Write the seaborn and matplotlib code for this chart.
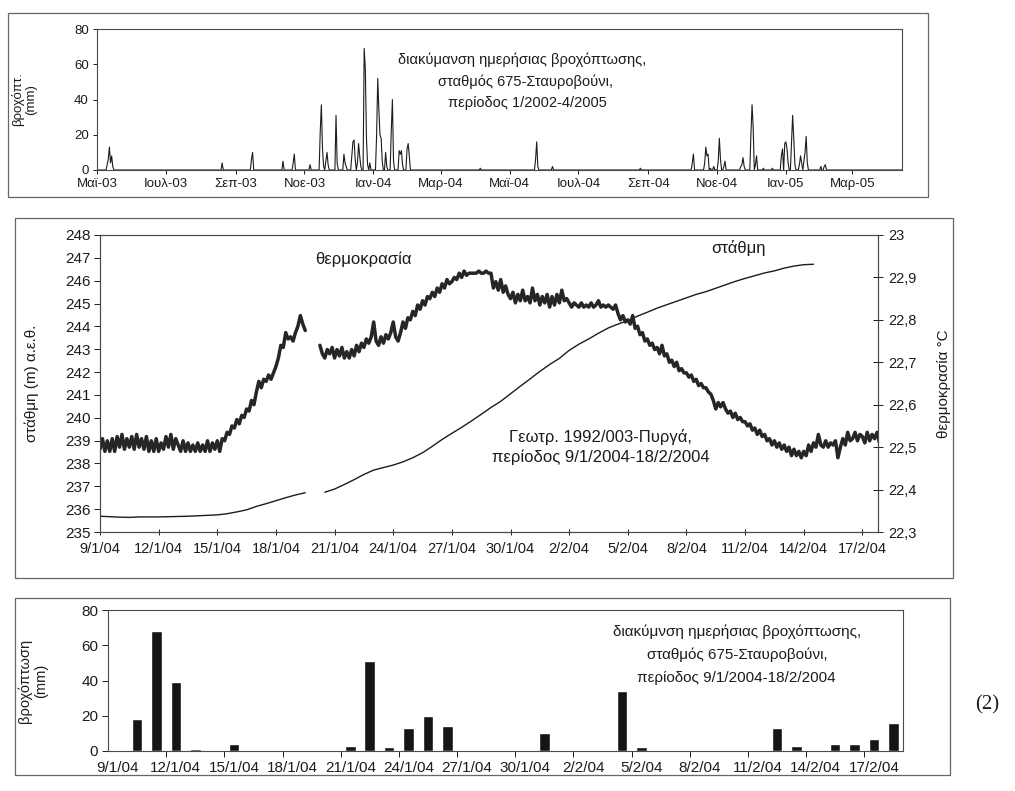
import pandas as pd
import matplotlib
matplotlib.use('Agg')
import matplotlib.pyplot as plt
import matplotlib.patches as mpatches
import seaborn as sns

# ---- top panel: daily rainfall, station 675 (only rainy days listed) ----
rain_dates = ['2003-05-10', '2003-05-11', '2003-05-12', '2003-05-13', '2003-05-14', '2003-05-15',
              '2003-08-20', '2003-09-15', '2003-09-16', '2003-10-13', '2003-10-22', '2003-10-23',
              '2003-11-06', '2003-11-15', '2003-11-16', '2003-11-17', '2003-11-18', '2003-11-20',
              '2003-11-21', '2003-11-22', '2003-11-29', '2003-11-30', '2003-12-06', '2003-12-07',
              '2003-12-08', '2003-12-13', '2003-12-14', '2003-12-15', '2003-12-16', '2003-12-18',
              '2003-12-19', '2003-12-20', '2003-12-21', '2003-12-24', '2003-12-25', '2003-12-26',
              '2003-12-27', '2003-12-29', '2004-01-04', '2004-01-05', '2004-01-06', '2004-01-07',
              '2004-01-08', '2004-01-09', '2004-01-12', '2004-01-13', '2004-01-17', '2004-01-18',
              '2004-01-19', '2004-01-24', '2004-01-25', '2004-01-26', '2004-01-27', '2004-01-31',
              '2004-02-01', '2004-02-02', '2004-04-05', '2004-05-24', '2004-05-25', '2004-05-26',
              '2004-06-08', '2004-08-25', '2004-10-10', '2004-10-11', '2004-10-21', '2004-10-22',
              '2004-10-23', '2004-10-24', '2004-10-26', '2004-10-29', '2004-11-02', '2004-11-03',
              '2004-11-04', '2004-11-07', '2004-11-08', '2004-11-22', '2004-11-23', '2004-11-24',
              '2004-11-25', '2004-12-01', '2004-12-02', '2004-12-03', '2004-12-05', '2004-12-06',
              '2004-12-12', '2004-12-20', '2004-12-28', '2004-12-29', '2004-12-31', '2005-01-01',
              '2005-01-02', '2005-01-03', '2005-01-06', '2005-01-07', '2005-01-08', '2005-01-09',
              '2005-01-13', '2005-01-14', '2005-01-15', '2005-01-17', '2005-01-18', '2005-01-19',
              '2005-01-20', '2005-02-01', '2005-02-04', '2005-02-05']
rain_mm = [3, 6, 13, 4, 8, 2,
           4, 6, 10, 5, 4, 9,
           3, 22, 37, 12, 2, 5,
           10, 3, 31, 4, 9, 4,
           2, 8, 16, 17, 6, 4,
           15, 8, 2, 69, 57, 18,
           3, 4, 20, 52, 34, 20,
           18, 5, 10, 2, 22, 40,
           5, 11, 9, 11, 3, 12,
           15, 8, 1, 6, 16, 2,
           2, 1, 4, 9, 4, 13,
           8, 9, 1, 2, 5, 18,
           6, 2, 5, 2, 3, 7,
           2, 20, 37, 24, 3, 8,
           1, 1, 8, 12, 15, 16,
           12, 4, 15, 31, 18, 3,
           3, 8, 4, 5, 10, 19,
           4, 2, 2, 3]

month_ticks = ['2003-05-01', '2003-07-01', '2003-09-01', '2003-11-01', '2004-01-01', '2004-03-01',
               '2004-05-01', '2004-07-01', '2004-09-01', '2004-11-01', '2005-01-01', '2005-03-01']
month_labels = ['Μαϊ-03', 'Ιουλ-03', 'Σεπ-03', 'Νοε-03', 'Ιαν-04', 'Μαρ-04',
                'Μαϊ-04', 'Ιουλ-04', 'Σεπ-04', 'Νοε-04', 'Ιαν-05', 'Μαρ-05']

# ---- middle panel: borehole 1992/003 Pyrga ----
# temperature every 3 h from 9/1/2004 00:00 (one row per day)
temp_c = [22.495, 22.52, 22.49, 22.515, 22.49, 22.52, 22.49, 22.525,
          22.50, 22.53, 22.495, 22.52, 22.50, 22.525, 22.495, 22.53,
          22.50, 22.52, 22.495, 22.525, 22.49, 22.515, 22.49, 22.52,
          22.49, 22.51, 22.495, 22.525, 22.50, 22.53, 22.495, 22.52,
          22.505, 22.49, 22.515, 22.49, 22.51, 22.49, 22.505, 22.49,
          22.51, 22.49, 22.505, 22.49, 22.515, 22.49, 22.51, 22.495,
          22.515, 22.49, 22.52, 22.515, 22.535, 22.53, 22.55, 22.545,
          22.565, 22.555, 22.575, 22.57, 22.59, 22.585, 22.61, 22.60,
          22.63, 22.655, 22.64, 22.66, 22.655, 22.67, 22.66, 22.675,
          22.69, 22.71, 22.74, 22.735, 22.77, 22.755, 22.76, 22.75,
          22.77, 22.785, 22.81, 22.79, 22.775, None, None, None,
          None, None, 22.74, 22.72, 22.71, 22.73, 22.72, 22.735,
          22.71, 22.73, 22.715, 22.735, 22.71, 22.725, 22.71, 22.73,
          22.715, 22.74, 22.725, 22.745, 22.735, 22.755, 22.745, 22.76,
          22.795, 22.75, 22.74, 22.76, 22.745, 22.765, 22.755, 22.77,
          22.795, 22.76, 22.75, 22.77, 22.795, 22.78, 22.805, 22.80,
          22.82, 22.81, 22.835, 22.825, 22.845, 22.835, 22.855, 22.85,
          22.865, 22.855, 22.875, 22.865, 22.885, 22.875, 22.895, 22.885,
          22.89, 22.90, 22.895, 22.91, 22.90, 22.915, 22.905, 22.91,
          22.91, 22.91, 22.91, 22.915, 22.91, 22.91, 22.915, 22.91,
          22.91, 22.875, 22.89, 22.87, 22.895, 22.865, 22.88, 22.86,
          22.85, 22.865, 22.84, 22.86, 22.845, 22.87, 22.845, 22.855,
          22.84, 22.875, 22.845, 22.86, 22.835, 22.855, 22.84, 22.86,
          22.83, 22.855, 22.835, 22.86, 22.84, 22.87, 22.845, 22.85,
          22.84, 22.83, 22.84, 22.835, 22.83, 22.84, 22.83, 22.835,
          22.83, 22.84, 22.83, 22.835, 22.845, 22.83, 22.835, 22.83,
          22.835, 22.83, 22.825, 22.835, 22.815, 22.80, 22.81, 22.795,
          22.80, 22.79, 22.81, 22.78, 22.785, 22.765, 22.77, 22.75,
          22.755, 22.74, 22.745, 22.73, 22.735, 22.72, 22.74, 22.715,
          22.72, 22.70, 22.705, 22.69, 22.70, 22.68, 22.685, 22.675,
          22.675, 22.665, 22.67, 22.655, 22.66, 22.645, 22.65, 22.64,
          22.64, 22.63, 22.625, 22.61, 22.59, 22.605, 22.595, 22.605,
          22.59, 22.58, 22.585, 22.57, 22.58, 22.565, 22.57, 22.56,
          22.56, 22.55, 22.555, 22.54, 22.545, 22.53, 22.54, 22.525,
          22.53, 22.515, 22.52, 22.505, 22.515, 22.50, 22.51, 22.495,
          22.505, 22.49, 22.50, 22.48, 22.495, 22.48, 22.49, 22.475,
          22.49, 22.48, 22.505, 22.49, 22.51, 22.50, 22.53, 22.505,
          22.50, 22.515, 22.50, 22.51, 22.505, 22.515, 22.475, 22.50,
          22.52, 22.505, 22.535, 22.515, 22.52, 22.535, 22.515, 22.53,
          22.525, 22.51, 22.535, 22.515, 22.53, 22.52, 22.535, 22.51]
# water level every 12 h from 9/1/2004 00:00
level_m = [235.69, 235.67, 235.65, 235.64, 235.66, 235.66, 235.66, 235.67, 235.68, 235.69,
           235.71, 235.73, 235.75, 235.80, 235.88, 235.97, 236.12, 236.24, 236.37, 236.50,
           236.62, 236.72, None, 236.74, 236.88, 237.08, 237.29, 237.52, 237.71, 237.82,
           237.93, 238.07, 238.25, 238.47, 238.75, 239.05, 239.32, 239.58, 239.86, 240.15,
           240.45, 240.72, 241.05, 241.38, 241.70, 242.03, 242.33, 242.60, 242.95, 243.22,
           243.45, 243.70, 243.93, 244.10, 244.25, 244.45, 244.62, 244.80, 244.95, 245.10,
           245.25, 245.40, 245.52, 245.67, 245.82, 245.97, 246.10, 246.22, 246.34, 246.43,
           246.55, 246.64, 246.70, 246.72]

# ---- bottom panel: daily rainfall 9/1/2004 - 18/2/2004 ----
bar_mm = [0.3, 18, 68, 39, 1, 0.4, 4, 0, 0, 0, 0, 0, 3, 51, 2, 13, 20, 14, 0, 0, 0,
          0, 10, 0, 0, 0, 34, 2, 0, 0, 0, 0, 0, 0, 13, 3, 0, 4, 4, 7, 16]

W, H = 1015, 791
INK = '#1c1c1c'
FRAME = '#4a4a4a'

sns.set_theme(style='ticks')
plt.rcParams['font.family'] = ['Liberation Sans', 'DejaVu Sans']
plt.rcParams['text.color'] = INK
plt.rcParams['axes.labelcolor'] = INK
plt.rcParams['xtick.color'] = INK
plt.rcParams['ytick.color'] = INK


def box(x0, y0, x1, y1):
    return [x0 / W, 1 - y1 / H, (x1 - x0) / W, (y1 - y0) / H]


def ftext(x, y, s, **kw):
    fig.text(x / W, 1 - y / H, s, ha='center', va='center', **kw)


def style_frame(ax):
    for sp in ax.spines.values():
        sp.set_color(FRAME)
        sp.set_linewidth(0.8)


def segments(values, start, freq):
    # split a series with gaps into separate units for seaborn
    d = pd.DataFrame({'t': pd.date_range(start, periods=len(values), freq=freq),
                      'v': pd.to_numeric(pd.Series(values, dtype='object'))})
    d['seg'] = d['v'].isna().cumsum()
    return d.dropna()


fig = plt.figure(figsize=(W / 100, H / 100), dpi=100)
fig.patch.set_facecolor('white')

# outer borders of the three pasted charts
for x0, y0, x1, y1 in [(8, 13, 928, 197), (15, 218, 953, 578), (15, 598, 950, 775)]:
    fig.add_artist(mpatches.Rectangle((x0 / W, 1 - y1 / H), (x1 - x0) / W, (y1 - y0) / H,
                                      transform=fig.transFigure, fill=False,
                                      ec='#666666', lw=0.9))

# ---------------- top ----------------
ax1 = fig.add_axes(box(97, 29, 902, 170))
rain = pd.Series(rain_mm, index=pd.to_datetime(rain_dates))
rain = rain.reindex(pd.date_range('2003-05-01', '2005-04-14', freq='D'), fill_value=0)
df_rain = pd.DataFrame({'date': rain.index, 'mm': rain.values})
sns.lineplot(data=df_rain, x='date', y='mm', color=INK, lw=0.8, ax=ax1)
ax1.set_xlim(pd.Timestamp('2003-05-01'), pd.Timestamp('2005-04-14'))
ax1.set_ylim(0, 80)
ax1.set_yticks(range(0, 81, 20))
ax1.set_xticks(pd.to_datetime(month_ticks))
ax1.set_xticklabels(month_labels)
ax1.tick_params(labelsize=9.5, length=3, width=0.7, direction='out', pad=3)
ax1.set_xlabel('')
ax1.set_ylabel('βροχόπτ.\n(mm)', fontsize=9.5, linespacing=1.1)
ax1.yaxis.set_label_coords(-0.075, 0.5)
style_frame(ax1)
ftext(522, 60, 'διακύμανση ημερήσιας βροχόπτωσης,', fontsize=10.5)
ftext(525, 82, 'σταθμός 675-Σταυροβούνι,', fontsize=10.5)
ftext(527, 103, 'περίοδος 1/2002-4/2005', fontsize=10.5)

# ---------------- middle ----------------
t0 = pd.Timestamp('2004-01-09')
ax2 = fig.add_axes(box(100, 235, 878, 532))
sns.lineplot(data=segments(level_m, t0, '12h'), x='t', y='v', units='seg',
             estimator=None, color=INK, lw=1.0, ax=ax2)
ax2.set_ylim(235, 248)
ax2.set_yticks(range(235, 249))
ax2.set_xlim(t0, t0 + pd.Timedelta(days=39.8))
xt = pd.date_range(t0, '2004-02-17', freq='3D')
ax2.set_xticks(xt)
ax2.set_xticklabels([f'{d.day}/{d.month}/04' for d in xt])
ax2.tick_params(axis='y', labelsize=11, length=4, width=0.7, direction='out', pad=3)
ax2.tick_params(axis='x', labelsize=10.5, length=5, width=0.7, direction='inout', pad=5)
ax2.set_xlabel('')
ax2.set_ylabel('στάθμη (m) α.ε.θ.', fontsize=11)
ax2.yaxis.set_label_coords(-0.078, 0.5)
style_frame(ax2)

ax2r = ax2.twinx()
sns.lineplot(data=segments(temp_c, t0, '3h'), x='t', y='v', units='seg',
             estimator=None, color='#262626', lw=2.5, ax=ax2r)
ax2r.set_ylim(22.3, 23.0)
rt = [22.3, 22.4, 22.5, 22.6, 22.7, 22.8, 22.9, 23.0]
ax2r.set_yticks(rt)
ax2r.set_yticklabels(['23' if v == 23.0 else f'{v:.1f}'.replace('.', ',') for v in rt])
ax2r.tick_params(axis='y', labelsize=10.5, length=7, width=0.7, direction='inout', pad=4)
ax2r.set_ylabel('θερμοκρασία °C', fontsize=11)
ax2r.yaxis.set_label_coords(1.076, 0.5)
ax2r.set_xlim(t0, t0 + pd.Timedelta(days=39.8))
style_frame(ax2r)

ftext(363, 259, 'θερμοκρασία', fontsize=12)
ftext(739, 248, 'στάθμη', fontsize=12)
ftext(600, 437, 'Γεωτρ. 1992/003-Πυργά,', fontsize=12)
ftext(601, 457, 'περίοδος 9/1/2004-18/2/2004', fontsize=12)

# ---------------- bottom ----------------
ax3 = fig.add_axes(box(108, 610, 903, 751))
bar_days = pd.date_range(t0, periods=len(bar_mm), freq='D')
bar_labels = [f'{d.day}/{d.month}/04' for d in bar_days]
df_bar = pd.DataFrame({'day': bar_labels, 'mm': bar_mm})
sns.barplot(data=df_bar, x='day', y='mm', color='#151515', saturation=1,
            width=0.55, ax=ax3)
ax3.set_xlim(-0.5, len(bar_mm) - 0.5)
ax3.set_ylim(0, 80)
ax3.set_yticks(range(0, 81, 20))
ax3.set_xticks(range(0, len(bar_mm), 3))
ax3.set_xticklabels(bar_labels[::3])
ax3.set_xticks([i - 0.5 for i in range(3, len(bar_mm), 3)], minor=True)
ax3.tick_params(axis='x', which='major', length=0, labelsize=11, pad=7)
ax3.tick_params(axis='x', which='minor', length=4, width=0.7, direction='out')
ax3.tick_params(axis='y', labelsize=11, length=4, width=0.7, direction='out', pad=3)
ax3.set_xlabel('')
ax3.set_ylabel('βροχόπτωση\n(mm)', fontsize=10.5, linespacing=1.25)
ax3.yaxis.set_label_coords(-0.075, 0.5)
style_frame(ax3)
ftext(737, 632, 'διακύμνση ημερήσιας βροχόπτωσης,', fontsize=11)
ftext(737, 655, 'σταθμός 675-Σταυροβούνι,', fontsize=11)
ftext(736, 678, 'περίοδος 9/1/2004-18/2/2004', fontsize=11)

fig.text(987 / W, 1 - 705 / H, '(2)', ha='center', va='center', fontsize=15,
         family=['Liberation Serif', 'DejaVu Serif'])

fig.savefig('out.png', dpi=100, facecolor='white')
